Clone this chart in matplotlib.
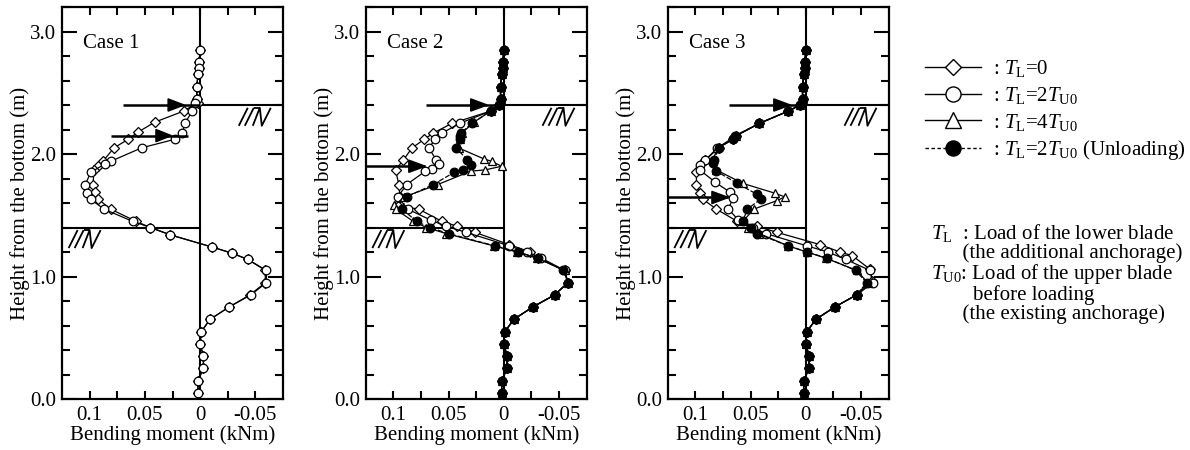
import matplotlib
matplotlib.use("Agg")
import matplotlib.pyplot as plt
from matplotlib.lines import Line2D
from matplotlib.patches import Polygon
from matplotlib.ticker import MultipleLocator, FixedLocator

plt.rcParams['font.family'] = ['Liberation Serif', 'DejaVu Serif']
plt.rcParams['mathtext.fontset'] = 'custom'
plt.rcParams['mathtext.rm'] = 'Liberation Serif'
plt.rcParams['mathtext.it'] = 'Liberation Serif:italic'
plt.rcParams['mathtext.bf'] = 'Liberation Serif:bold'

# Shared top / bottom parts of the profiles (same in every case)
TOP_Y = [2.85, 2.75, 2.70, 2.65, 2.55, 2.45]
TOP_M = [0.0, 0.001, 0.001, 0.002, 0.003, 0.003]
BOT_Y = [0.75, 0.65, 0.55, 0.45, 0.35, 0.25, 0.15, 0.05]
BOT_M = [-0.026, -0.009, -0.001, 0.0, -0.003, -0.003, 0.002, 0.002]

# Case 1
C1_T0_Y = [2.42, 2.35, 2.26, 2.18, 2.12, 2.05, 1.94, 1.90, 1.87, 1.75, 1.69, 1.63,
           1.55, 1.45, 1.40, 1.34, 1.24, 1.19, 1.14, 1.05, 0.95, 0.85]
C1_T0_M = [0.002, 0.015, 0.041, 0.056, 0.065, 0.078, 0.088, 0.092, 0.096, 0.097, 0.095, 0.092,
           0.081, 0.058, 0.045, 0.027, -0.011, -0.029, -0.043, -0.059, -0.059, -0.045]
C1_T2_Y = [2.42, 2.35, 2.25, 2.17, 2.12, 2.05, 1.94, 1.92, 1.85, 1.75, 1.68, 1.63,
           1.55, 1.45, 1.40, 1.34, 1.24, 1.19, 1.14, 1.05, 0.95, 0.85]
C1_T2_M = [0.005, 0.007, 0.014, 0.016, 0.023, 0.053, 0.081, 0.086, 0.099, 0.104, 0.102, 0.099,
           0.087, 0.061, 0.045, 0.027, -0.011, -0.029, -0.043, -0.060, -0.060, -0.046]

# Case 2
C2_T0_Y = [2.40, 2.35, 2.25, 2.17, 2.12, 2.05, 1.95, 1.87, 1.75, 1.65, 1.58, 1.55,
           1.45, 1.41, 1.36, 1.26, 1.20, 1.15, 1.05, 0.95, 0.85]
C2_T0_M = [0.004, 0.012, 0.047, 0.064, 0.072, 0.083, 0.091, 0.098, 0.095, 0.094, 0.097, 0.077,
           0.056, 0.042, 0.026, -0.005, -0.024, -0.031, -0.055, -0.058, -0.046]
C2_T2_Y = [2.40, 2.35, 2.25, 2.17, 2.12, 2.05, 1.95, 1.92, 1.88, 1.86, 1.75, 1.65,
           1.55, 1.46, 1.41, 1.36, 1.25, 1.20, 1.15, 1.05, 0.95, 0.85]
C2_T2_M = [0.004, 0.012, 0.040, 0.056, 0.062, 0.068, 0.061, 0.059, 0.065, 0.071, 0.088, 0.096,
           0.087, 0.066, 0.052, 0.034, -0.005, -0.021, -0.034, -0.055, -0.058, -0.046]
C2_T4_Y = [2.40, 2.35, 2.26, 2.17, 2.12, 2.05, 1.96, 1.94, 1.90, 1.87, 1.86, 1.75,
           1.65, 1.58, 1.55, 1.45, 1.40, 1.35, 1.25, 1.20, 1.15, 1.05, 0.95, 0.85]
C2_T4_M = [0.004, 0.012, 0.027, 0.038, 0.040, 0.041, 0.018, 0.011, 0.002, 0.017, 0.030, 0.060,
           0.090, 0.099, 0.098, 0.082, 0.070, 0.052, 0.009, -0.012, -0.030, -0.055, -0.058, -0.046]
C2_UN_Y = [2.40, 2.35, 2.25, 2.17, 2.15, 2.12, 2.05, 1.95, 1.91, 1.87, 1.85, 1.75,
           1.65, 1.55, 1.45, 1.40, 1.35, 1.25, 1.20, 1.15, 1.05, 0.95, 0.85]
C2_UN_M = [0.004, 0.012, 0.029, 0.039, 0.040, 0.040, 0.043, 0.033, 0.030, 0.037, 0.045, 0.064,
           0.088, 0.092, 0.079, 0.067, 0.050, 0.008, -0.013, -0.031, -0.054, -0.058, -0.046]

# Case 3
C3_T0_Y = [2.40, 2.35, 2.25, 2.15, 2.12, 2.05, 1.95, 1.85, 1.75, 1.68, 1.63, 1.55,
           1.45, 1.41, 1.36, 1.26, 1.20, 1.17, 1.06, 0.96, 0.85]
C3_T0_M = [0.005, 0.016, 0.042, 0.063, 0.066, 0.079, 0.091, 0.099, 0.099, 0.096, 0.093, 0.081,
           0.062, 0.044, 0.026, -0.013, -0.031, -0.042, -0.058, -0.060, -0.046]
C3_T2_Y = [2.40, 2.35, 2.25, 2.15, 2.12, 2.05, 1.95, 1.91, 1.87, 1.77, 1.69, 1.64,
           1.55, 1.46, 1.40, 1.35, 1.25, 1.20, 1.14, 1.05, 0.95, 0.85]
C3_T2_M = [0.005, 0.016, 0.042, 0.063, 0.066, 0.080, 0.091, 0.096, 0.096, 0.082, 0.069, 0.066,
           0.070, 0.061, 0.048, 0.036, -0.001, -0.020, -0.036, -0.058, -0.061, -0.046]
C3_T4_Y = [2.40, 2.35, 2.25, 2.15, 2.05, 1.95, 1.87, 1.76, 1.68, 1.65, 1.62, 1.55,
           1.45, 1.40, 1.35, 1.25, 1.20, 1.15, 1.05, 0.95, 0.85]
C3_T4_M = [0.005, 0.016, 0.042, 0.063, 0.080, 0.084, 0.081, 0.057, 0.028, 0.019, 0.026, 0.047,
           0.057, 0.052, 0.042, 0.016, -0.001, -0.018, -0.046, -0.056, -0.046]
C3_UN_Y = [2.40, 2.35, 2.25, 2.15, 2.12, 2.05, 1.95, 1.93, 1.86, 1.76, 1.67, 1.63,
           1.55, 1.45, 1.40, 1.35, 1.25, 1.20, 1.15, 1.05, 0.95, 0.85]
C3_UN_M = [0.005, 0.016, 0.042, 0.064, 0.066, 0.079, 0.083, 0.084, 0.081, 0.062, 0.044, 0.041,
           0.053, 0.057, 0.050, 0.044, 0.016, -0.001, -0.019, -0.045, -0.055, -0.046]

# anchor heights (upper existing anchor, lower additional anchor)
UPPER_ANCHOR = 2.4
LOWER_ANCHOR = [2.15, 1.9, 1.645]
GROUND_RIGHT = 2.4
GROUND_LEFT = 1.4

CASES = ["Case 1", "Case 2", "Case 3"]

LABELS = [r": $T_{\mathrm{L}}$=0",
          r": $T_{\mathrm{L}}$=2$T_{\mathrm{U0}}$",
          r": $T_{\mathrm{L}}$=4$T_{\mathrm{U0}}$",
          r": $T_{\mathrm{L}}$=2$T_{\mathrm{U0}}$ (Unloading)"]

NOTES = [r"$T_{\mathrm{L}}$  : Load of the lower blade",
         "      (the additional anchorage)",
         r"$T_{\mathrm{U0}}$: Load of the upper blade",
         "        before loading",
         "      (the existing anchorage)"]

STYLE = {
    "T0": dict(marker="D", ms=4.6, mfc="white", mec="black", ls="-"),
    "T2": dict(marker="o", ms=6.2, mfc="white", mec="black", ls="-"),
    "T4": dict(marker="^", ms=6.2, mfc="white", mec="black", ls="-"),
    "UN": dict(marker="o", ms=6.2, mfc="black", mec="black", ls=(0, (4, 1.5))),
}

series = [
    [("T0", C1_T0_Y, C1_T0_M), ("T2", C1_T2_Y, C1_T2_M)],
    [("T0", C2_T0_Y, C2_T0_M), ("T2", C2_T2_Y, C2_T2_M),
     ("T4", C2_T4_Y, C2_T4_M), ("UN", C2_UN_Y, C2_UN_M)],
    [("T0", C3_T0_Y, C3_T0_M), ("T2", C3_T2_Y, C3_T2_M),
     ("T4", C3_T4_Y, C3_T4_M), ("UN", C3_UN_Y, C3_UN_M)],
]

# arrow shafts and heads (x start, x end, head start, head tip)
upper_arrows = [(0.070, 0.0, 0.029, 0.0145), (0.070, 0.0, 0.030, 0.015), (0.0695, 0.0, 0.029, 0.014)]
lower_arrows = [(0.0805, 0.011, 0.040, 0.026), (0.125, 0.071, 0.086, 0.071), (0.125, 0.070, 0.085, 0.070)]

W, H = 1190, 450
fig = plt.figure(figsize=(W / 100, H / 100), dpi=100)
lefts = [62, 365.7, 667.7]


def ground_mark(ax, x0, y0):
    # small slanted hatch mark, drawn in axes fraction units
    pw, ph = 221.0, 392.0
    strokes = [[(0, 0), (9, 18)], [(6, 0), (15, 18)],
               [(14, 0), (21, 18), (23, 0), (32, 18)], [(15, 18), (21, 18)]]
    for s in strokes:
        xs = [x0 + p[0] / pw for p in s]
        ys = [y0 + p[1] / ph for p in s]
        ax.plot(xs, ys, color="black", lw=1.3, transform=ax.transAxes, clip_on=False,
                solid_capstyle="butt")


for i in range(3):
    ax = fig.add_axes([lefts[i] / W, 51 / H, 221 / W, 392 / H])
    ax.set_xlim(0.125, -0.075)
    ax.set_ylim(0, 3.2)

    # zero line and ground lines
    ax.axvline(0, color="black", lw=1.5, zorder=1)
    ax.plot([0, -0.075], [GROUND_RIGHT, GROUND_RIGHT], color="black", lw=1.5, zorder=1)
    ax.plot([0.125, 0], [GROUND_LEFT, GROUND_LEFT], color="black", lw=1.5, zorder=1)
    ground_mark(ax, 0.80, 0.697)
    ground_mark(ax, 0.03, 0.385)

    for key, ys, ms in series[i]:
        st = STYLE[key]
        ax.plot(TOP_M + ms + BOT_M, TOP_Y + ys + BOT_Y, color="black", lw=0.9,
                ls=st["ls"], marker=st["marker"], ms=st["ms"], mfc=st["mfc"],
                mec=st["mec"], mew=0.9, zorder=3)

    # arrows
    for (xs, xe, h0, h1), ya in [(upper_arrows[i], UPPER_ANCHOR), (lower_arrows[i], LOWER_ANCHOR[i])]:
        ax.plot([xs, xe], [ya, ya], color="black", lw=1.8, zorder=4, solid_capstyle="butt")
        hh = 0.05
        ax.add_patch(Polygon([(h0, ya + hh), (h0, ya - hh), (h1, ya)], closed=True,
                             fc="black", ec="black", zorder=5))

    ax.text(0.097, 0.908, CASES[i], transform=ax.transAxes, fontsize=15, va="center", ha="left")

    ax.xaxis.set_major_locator(FixedLocator([0.1, 0.05, 0.0, -0.05]))
    ax.xaxis.set_minor_locator(FixedLocator([0.075, 0.025, -0.025]))
    ax.set_xticklabels(["0.1", "0.05", "0", "-0.05"])
    ax.yaxis.set_minor_locator(MultipleLocator(0.2))
    ax.set_yticks([0, 1, 2, 3])
    ax.set_yticklabels(["0.0", "1.0", "2.0", "3.0"])
    ax.tick_params(which="both", direction="in", top=True, right=True, width=1.5, labelsize=15)
    ax.tick_params(axis="y", which="major", length=11, pad=4)
    ax.tick_params(axis="y", which="minor", length=6)
    ax.tick_params(axis="x", which="both", length=6, pad=5)
    for sp in ax.spines.values():
        sp.set_linewidth(1.6)
    ax.set_xlabel("Bending moment (kNm)", fontsize=15, labelpad=0)
    ax.set_ylabel("Height from the bottom (m)", fontsize=15, labelpad=0)

# legend
handles = []
for key in ["T0", "T2", "T4", "UN"]:
    st = STYLE[key]
    handles.append(Line2D([], [], color="black", lw=1.0,
                          ls=(0, (2.5, 1.8)) if key == "UN" else "-",
                          marker=st["marker"], ms=st["ms"] * 1.75, mfc=st["mfc"],
                          mec="black", mew=1.0))
fig.legend(handles, LABELS, loc="upper left", bbox_to_anchor=(925 / W, 1 - 58 / H),
           frameon=False, fontsize=15, handlelength=2.7, handletextpad=0.55,
           labelspacing=0.28, borderpad=0, borderaxespad=0)

# explanation block (one text so the tight lines do not collide)
fig.text(931 / W, 1 - 222 / H, "\n".join(NOTES), fontsize=15, va="top", ha="left",
         linespacing=0.95)

fig.savefig("out.png", dpi=100)
